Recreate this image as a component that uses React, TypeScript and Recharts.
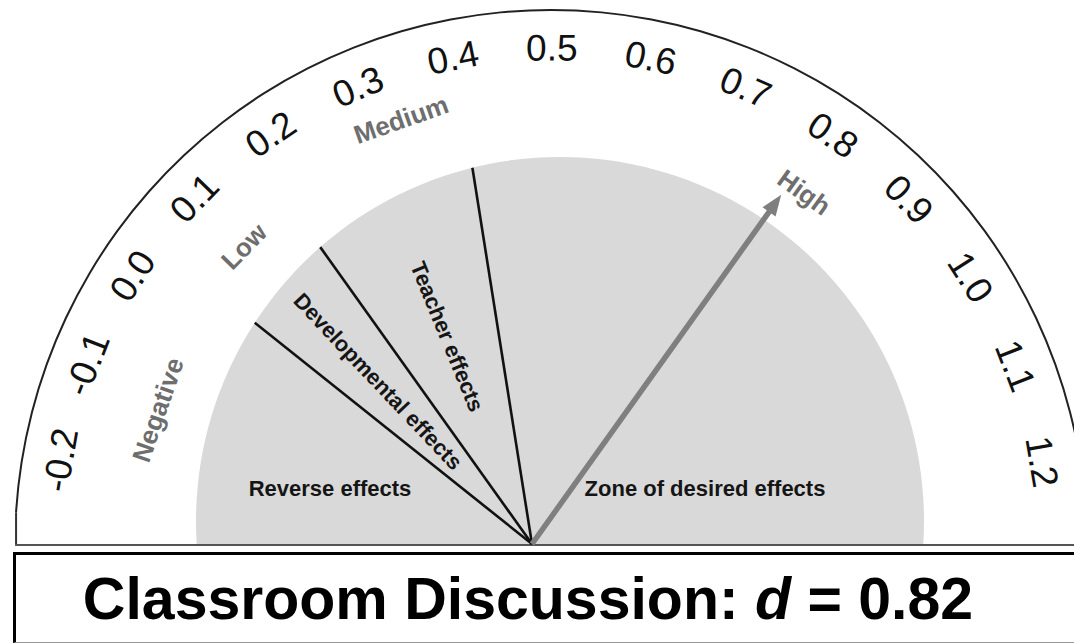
import React from 'react';
import { PieChart, Pie } from 'recharts';

// ---------- data ----------
const scaleMin = -0.3;
const scaleMax = 1.3;
const tickValues = [-0.2, -0.1, 0.0, 0.1, 0.2, 0.3, 0.4, 0.5, 0.6, 0.7, 0.8, 0.9, 1.0, 1.1, 1.2];
const tickLabels = ['-0.2', '-0.1', '0.0', '0.1', '0.2', '0.3', '0.4', '0.5', '0.6', '0.7', '0.8', '0.9', '1.0', '1.1', '1.2'];
const zoneBounds = [0.0, 0.15, 0.4];
const zoneNames = ['Reverse effects', 'Developmental effects', 'Teacher effects', 'Zone of desired effects'];
const levelNames = ['Negative', 'Low', 'Medium', 'High'];
const levelAt = [-0.12, 0.1, 0.33, 0.81];
const effectSize = 0.82;
const titleLabel = 'Classroom Discussion';
const statSymbol = 'd';

// ---------- styles / geometry ----------
const FONT = '"Liberation Sans", Arial, Helvetica, sans-serif';
const RAD = Math.PI / 180;
const OUTER = { cx: 551, cy: 546, start: 181.5, end: -1.7 };
const FRAME = { start: 176.4, end: 3.6, r: 536 };
const INNER = { cx: 532, cy: 544, start: 173.2, end: 3.6 };
const DISK = { cx: 560, cy: 521, r: 364 };
const BASE_Y = 545;
const levelRadius = [416, 429, 452, 435];

const pt = (cx: number, cy: number, r: number, a: number) => ({
  x: cx + r * Math.cos(a * RAD),
  y: cy - r * Math.sin(a * RAD),
});

// distance from the inner hub to the gray disk edge along angle a
const diskReach = (a: number) => {
  const dx = INNER.cx - DISK.cx;
  const dy = INNER.cy - DISK.cy;
  const ux = Math.cos(a * RAD);
  const uy = -Math.sin(a * RAD);
  const b = dx * ux + dy * uy;
  const c = dx * dx + dy * dy - DISK.r * DISK.r;
  return -b + Math.sqrt(b * b - c);
};

// segments whose end angles land on each value
function segmentsAt(values: number[], names: string[]) {
  const rows: { name: string; value: number }[] = [];
  let prev = scaleMin;
  values.forEach((v, i) => {
    rows.push({ name: names[i] ?? String(v), value: v - prev });
    prev = v;
  });
  rows.push({ name: 'rest', value: scaleMax - prev });
  return rows;
}

const tickData = segmentsAt(tickValues, tickLabels);
const zoneData = segmentsAt(zoneBounds, zoneNames);
const levelData = segmentsAt(levelAt, levelNames);
const pointerData = segmentsAt([effectSize], [statSymbol]);
const diskData = [{ name: 'disk', value: 1 }];
const frameData = [{ name: 'frame', value: 1 }];

// ---------- label renderers ----------
const renderTick = (p: any) => {
  const i = p.index;
  if (i >= tickLabels.length) return null;
  const a = p.endAngle;
  const { x, y } = pt(OUTER.cx, OUTER.cy, 498, a);
  return (
    <text
      x={x}
      y={y}
      transform={`rotate(${90 - a} ${x} ${y})`}
      textAnchor="middle"
      dominantBaseline="central"
      fontFamily={FONT}
      fontSize={37}
      fill="#111"
    >
      {tickLabels[i]}
    </text>
  );
};

const renderLevel = (p: any) => {
  const i = p.index;
  if (i >= levelNames.length) return null;
  const a = p.endAngle;
  const { x, y } = pt(OUTER.cx, OUTER.cy, levelRadius[i], a);
  return (
    <text
      x={x}
      y={y}
      transform={`rotate(${90 - a} ${x} ${y})`}
      textAnchor="middle"
      dominantBaseline="central"
      fontFamily={FONT}
      fontSize={26}
      fontWeight="bold"
      fill="#6e6e6e"
    >
      {levelNames[i]}
    </text>
  );
};

const renderZone = (p: any) => {
  const i = p.index;
  const parts: React.ReactNode[] = [];
  if (i < zoneBounds.length) {
    const a = p.endAngle;
    const e = pt(INNER.cx, INNER.cy, diskReach(a), a);
    parts.push(
      <line key="l" x1={INNER.cx} y1={INNER.cy} x2={e.x} y2={e.y} stroke="#111" strokeWidth={2.6} />
    );
  }
  const common = {
    fontFamily: FONT,
    fontSize: 22,
    fontWeight: 'bold' as const,
    fill: '#151515',
    textAnchor: 'middle' as const,
    dominantBaseline: 'central' as const,
  };
  if (i === 0 || i === zoneNames.length - 1) {
    const x = i === 0 ? INNER.cx - 202 : INNER.cx + 173;
    const y = INNER.cy - 56;
    parts.push(
      <text key="t" x={x} y={y} {...common}>
        {zoneNames[i]}
      </text>
    );
  } else {
    const a = p.midAngle;
    const { x, y } = pt(INNER.cx, INNER.cy, 224, a);
    parts.push(
      <text key="t" x={x} y={y} transform={`rotate(${180 - a} ${x} ${y})`} {...common}>
        {zoneNames[i]}
      </text>
    );
  }
  return <g>{parts}</g>;
};

const renderPointer = (p: any) => {
  if (p.index !== 0) return null;
  const a = p.endAngle;
  const len = 429;
  const head = 21;
  const half = 8;
  const tip = pt(INNER.cx, INNER.cy, len, a);
  const base = pt(INNER.cx, INNER.cy, len - head, a);
  const shaftEnd = pt(INNER.cx, INNER.cy, len - head + 2, a);
  const nx = Math.sin(a * RAD);
  const ny = Math.cos(a * RAD);
  const pts = `${tip.x},${tip.y} ${base.x + nx * half},${base.y + ny * half} ${base.x - nx * half},${base.y - ny * half}`;
  return (
    <g>
      <line x1={INNER.cx} y1={INNER.cy} x2={shaftEnd.x} y2={shaftEnd.y} stroke="#7f7f7f" strokeWidth={5.5} />
      <polygon points={pts} fill="#7f7f7f" />
    </g>
  );
};

const renderFrame = (p: any) => {
  const s = pt(OUTER.cx, OUTER.cy, FRAME.r, p.startAngle);
  const e = pt(OUTER.cx, OUTER.cy, FRAME.r, p.endAngle);
  return (
    <g>
      <line x1={s.x} y1={s.y} x2={s.x} y2={BASE_Y} stroke="#333" strokeWidth={2} />
      <line x1={e.x} y1={e.y} x2={e.x} y2={BASE_Y} stroke="#333" strokeWidth={2} />
      <line x1={s.x - 1} y1={BASE_Y} x2={1080} y2={BASE_Y} stroke="#555" strokeWidth={2} />
    </g>
  );
};

export default function App() {
  return (
    <div
      style={{
        position: 'absolute',
        left: 0,
        top: 0,
        width: 1074,
        height: 643,
        overflow: 'hidden',
        background: '#fff',
      }}
    >
      <PieChart width={1074} height={643} margin={{ top: 0, right: 0, bottom: 0, left: 0 }}>
        <Pie
          data={diskData}
          dataKey="value"
          nameKey="name"
          cx={DISK.cx}
          cy={DISK.cy}
          innerRadius={0}
          outerRadius={DISK.r}
          startAngle={0}
          endAngle={360}
          fill="#d9d9d9"
          stroke="none"
          isAnimationActive={false}
        />
        <Pie
          data={frameData}
          dataKey="value"
          nameKey="name"
          cx={OUTER.cx}
          cy={OUTER.cy}
          innerRadius={FRAME.r - 1}
          outerRadius={FRAME.r + 1}
          startAngle={FRAME.start}
          endAngle={FRAME.end}
          fill="#222"
          stroke="none"
          label={renderFrame}
          labelLine={false}
          isAnimationActive={false}
        />
        <Pie
          data={zoneData}
          dataKey="value"
          nameKey="name"
          cx={INNER.cx}
          cy={INNER.cy}
          innerRadius={0}
          outerRadius={300}
          startAngle={INNER.start}
          endAngle={INNER.end}
          fill="none"
          stroke="none"
          label={renderZone}
          labelLine={false}
          isAnimationActive={false}
        />
        <Pie
          data={pointerData}
          dataKey="value"
          nameKey="name"
          cx={INNER.cx}
          cy={INNER.cy}
          innerRadius={0}
          outerRadius={300}
          startAngle={INNER.start}
          endAngle={INNER.end}
          fill="none"
          stroke="none"
          label={renderPointer}
          labelLine={false}
          isAnimationActive={false}
        />
        <Pie
          data={tickData}
          dataKey="value"
          nameKey="name"
          cx={OUTER.cx}
          cy={OUTER.cy}
          innerRadius={470}
          outerRadius={520}
          startAngle={OUTER.start}
          endAngle={OUTER.end}
          fill="none"
          stroke="none"
          label={renderTick}
          labelLine={false}
          isAnimationActive={false}
        />
        <Pie
          data={levelData}
          dataKey="value"
          nameKey="name"
          cx={OUTER.cx}
          cy={OUTER.cy}
          innerRadius={400}
          outerRadius={460}
          startAngle={OUTER.start}
          endAngle={OUTER.end}
          fill="none"
          stroke="none"
          label={renderLevel}
          labelLine={false}
          isAnimationActive={false}
        />
      </PieChart>
      <div
        style={{
          position: 'absolute',
          left: 0,
          top: 546,
          width: 1074,
          height: 97,
          background: '#fff',
        }}
      >
        <div
          style={{
            position: 'absolute',
            left: 13,
            top: 6,
            width: 1100,
            height: 91,
            boxSizing: 'border-box',
            borderTop: '3px solid #000',
            borderLeft: '3px solid #000',
            borderBottom: '1px solid #999',
          }}
        />
        <div
          style={{
            position: 'absolute',
            left: 0,
            top: 24,
            width: 1056,
            textAlign: 'center',
            fontFamily: FONT,
            fontWeight: 'bold',
            fontSize: 59,
            lineHeight: '59px',
            whiteSpace: 'nowrap',
            color: '#000',
          }}
        >
          {titleLabel}: <i>{statSymbol}</i> = {effectSize.toFixed(2)}
        </div>
      </div>
    </div>
  );
}
